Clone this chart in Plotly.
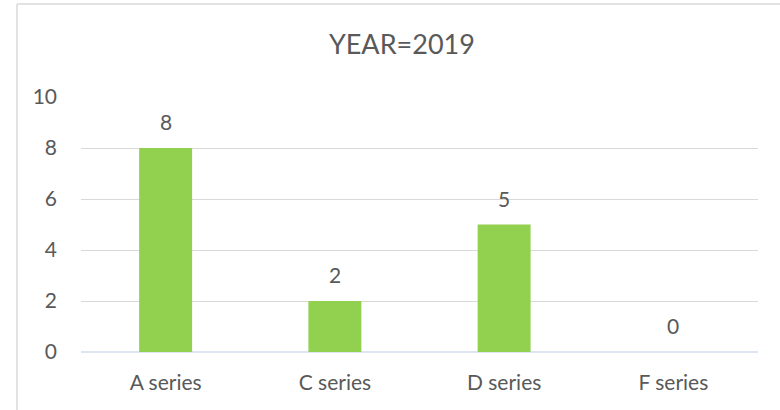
import plotly.graph_objects as go

# chart data
categories = ["A series", "C series", "D series", "F series"]
values = [8, 2, 5, 0]
y_ticks = [0, 2, 4, 6, 8, 10]

BAR_COLOR = "#92D050"
TEXT_COLOR = "#595959"
GRID_COLOR = "#D9D9D9"
FONT = "Lato, 'Open Sans', sans-serif"

fig = go.Figure()

fig.add_trace(
    go.Bar(
        x=categories,
        y=values,
        marker=dict(color=BAR_COLOR, line=dict(width=0)),
        showlegend=False,
        hoverinfo="x+y",
    )
)

# data labels above bars (Excel-style gap)
for cat, val in zip(categories, values):
    fig.add_annotation(
        x=cat, y=val, text=str(val), showarrow=False,
        yanchor="bottom", yshift=12,
        font=dict(family=FONT, size=21, color=TEXT_COLOR),
    )

# chart area border (left and top only visible)
fig.add_shape(type="line", xref="paper", yref="paper",
              x0=-0.0945, x1=-0.0945, y0=-1, y1=1.3647,
              line=dict(color="#D9D9D9", width=1.5))
fig.add_shape(type="line", xref="paper", yref="paper",
              x0=-0.0945, x1=2, y0=1.3647, y1=1.3647,
              line=dict(color="#D9D9D9", width=1.5))

fig.update_layout(
    width=780,
    height=410,
    margin=dict(l=81, r=22, t=97, b=58, autoexpand=False),
    paper_bgcolor="white",
    plot_bgcolor="white",
    bargap=0.687,
    font=dict(family=FONT, color=TEXT_COLOR, size=21),
    title=dict(
        text="YEAR=2019",
        xref="paper", x=0.474, xanchor="center",
        y=1 - 45 / 410, yanchor="middle",
        font=dict(family=FONT, size=27, color=TEXT_COLOR),
    ),
)

fig.update_xaxes(
    showgrid=False,
    showline=False,
    ticks="",
    automargin=False,
    ticklabelstandoff=16,
    tickfont=dict(size=21, color=TEXT_COLOR),
)
fig.update_yaxes(
    range=[0, 10],
    tickvals=y_ticks,
    showgrid=True,
    gridcolor=GRID_COLOR,
    gridwidth=1,
    zeroline=True,
    zerolinecolor="#DCE6F2",
    zerolinewidth=1.5,
    showline=False,
    ticks="",
    automargin=False,
    ticklabelstandoff=23,
    tickfont=dict(size=21, color=TEXT_COLOR),
)

# drop the default page margin so the figure sits at the window's corner
fig.write_html(
    "out.html",
    config={"displayModeBar": False},
    post_script="document.body.style.margin='0';",
)
